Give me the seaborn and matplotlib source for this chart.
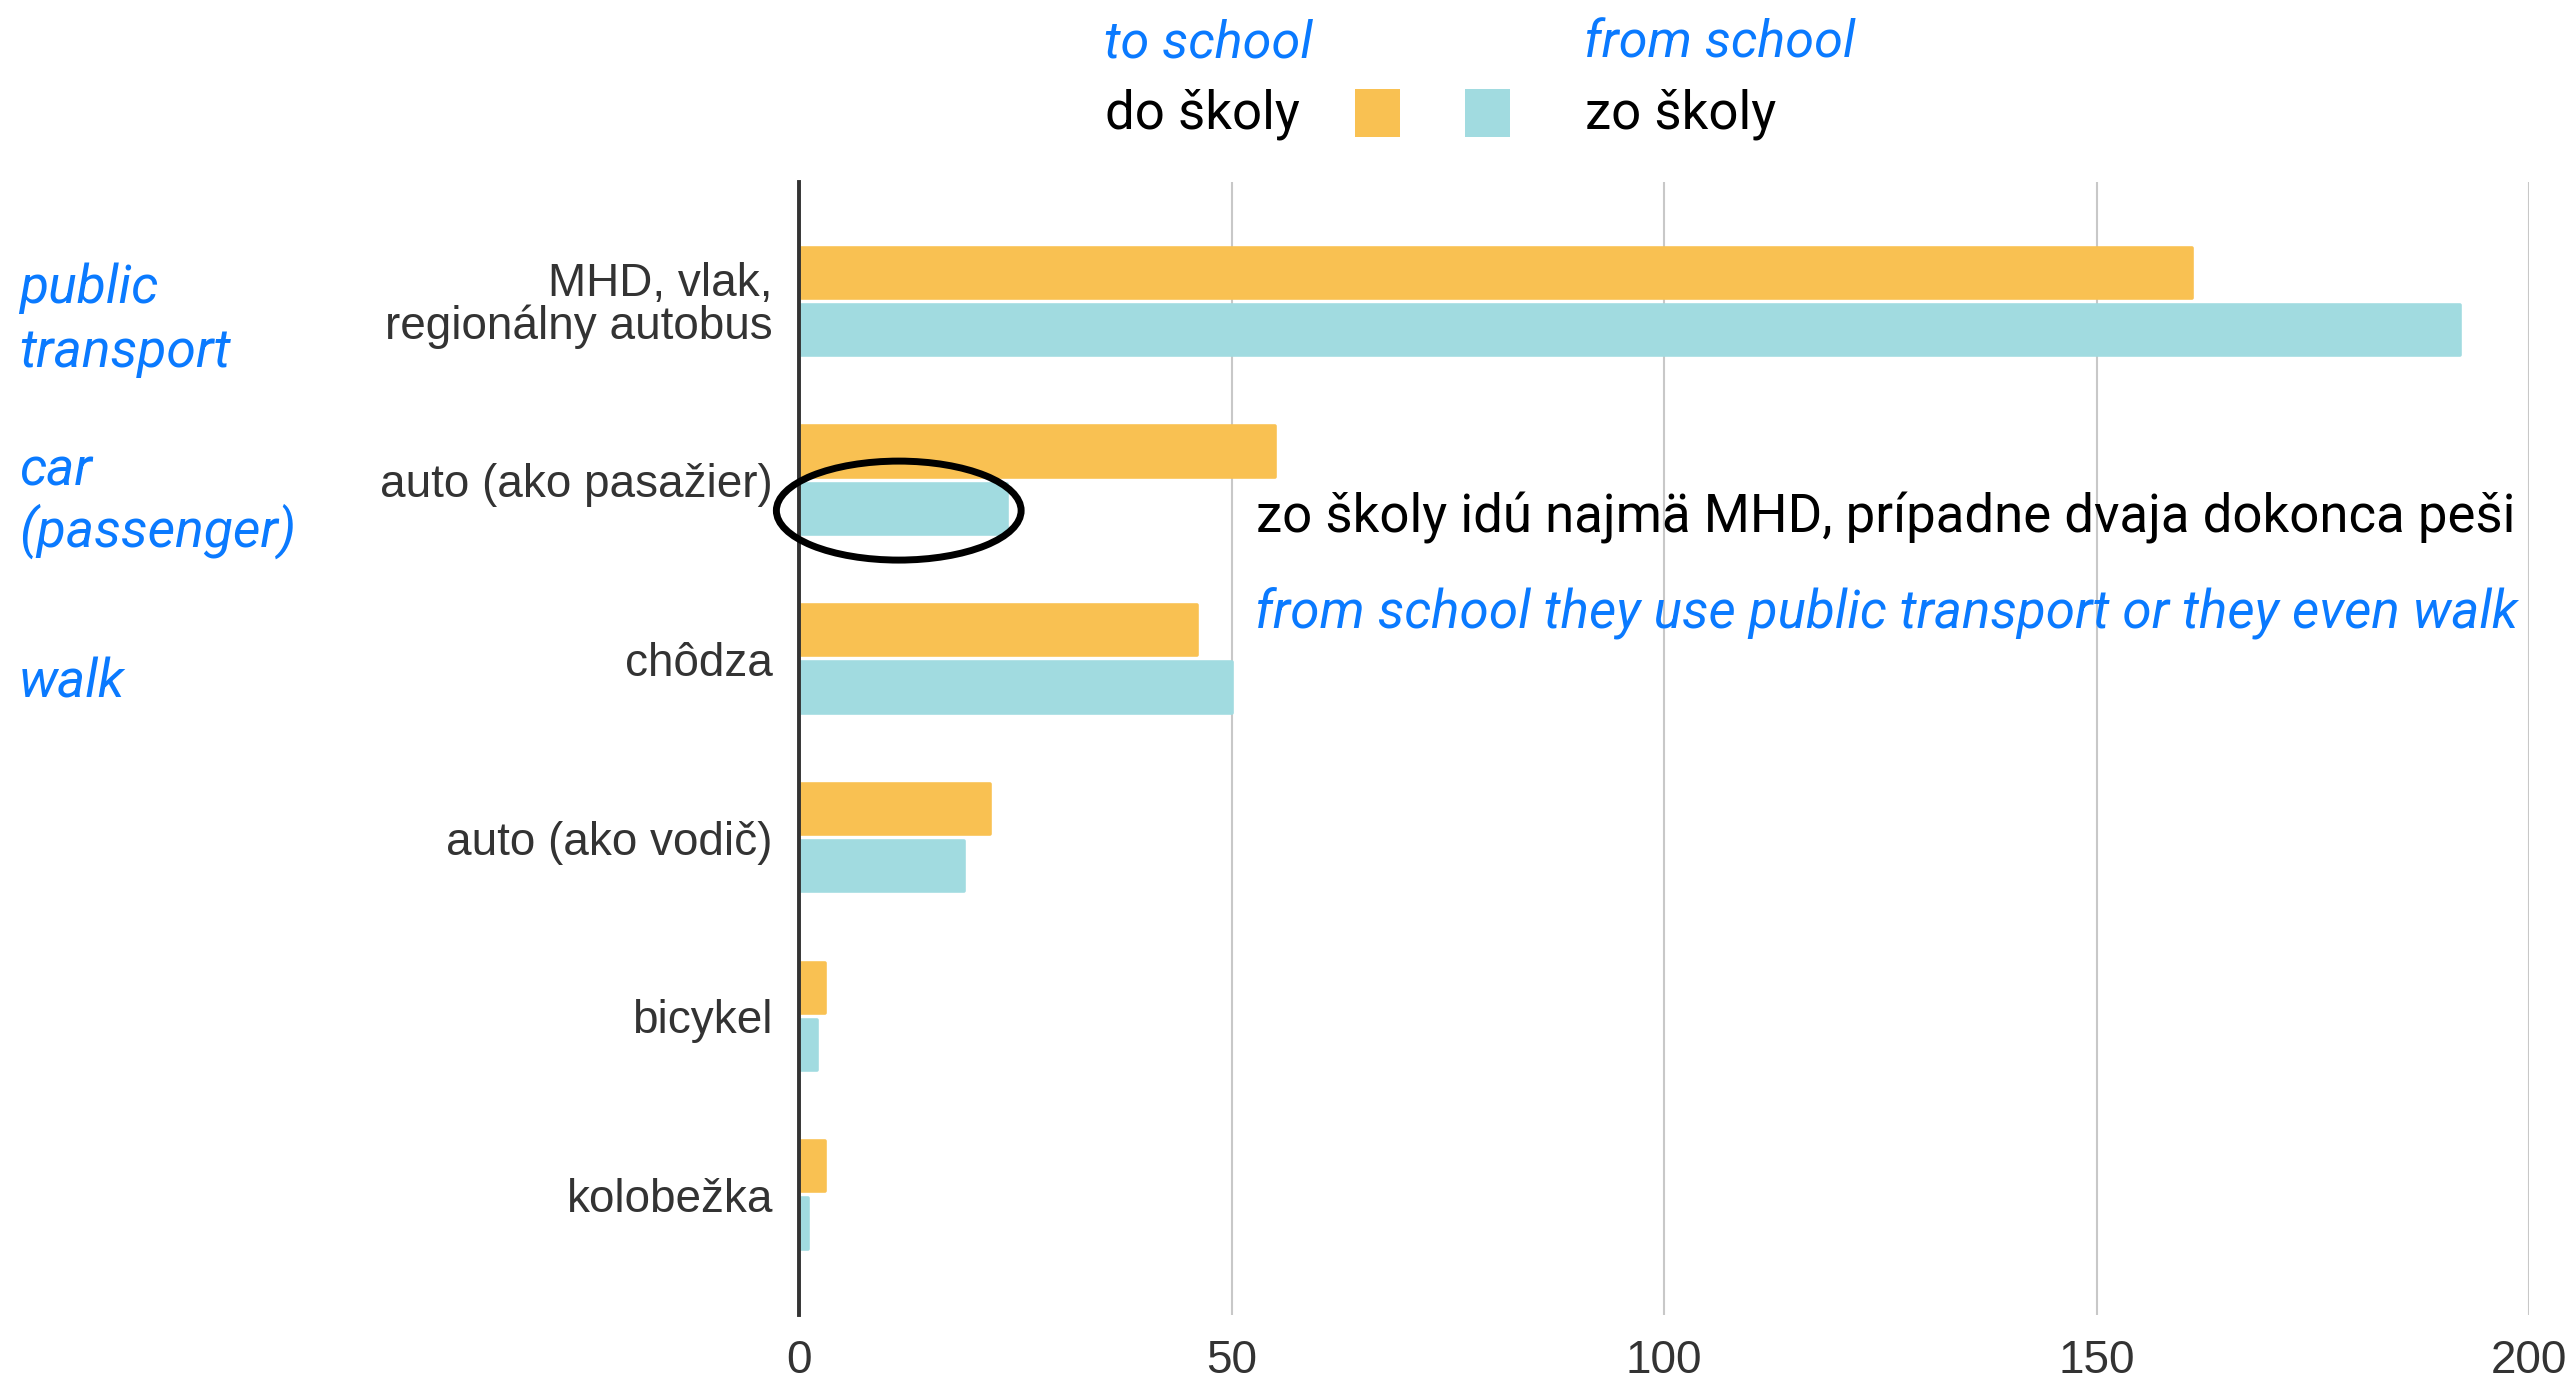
import matplotlib
matplotlib.use("Agg")
import matplotlib.pyplot as plt
from matplotlib.patches import Ellipse, Rectangle
from matplotlib.transforms import IdentityTransform
import seaborn as sns
import pandas as pd

# ---- data ----
categories = ["MHD, vlak,\nregionálny autobus", "auto (ako pasažier)", "chôdza",
              "auto (ako vodič)", "bicykel", "kolobežka"]
to_school = [161, 55, 46, 22, 3, 3]
from_school = [192, 24, 50, 19, 2, 1]
series_names = ["do školy", "zo školy"]
x_ticks = [0, 50, 100, 150, 200]

ORANGE = "#F9C152"
TEAL = "#A1DBE0"
BLUE = "#0A7AFF"

df = pd.DataFrame({
    "category": categories * 2,
    "count": to_school + from_school,
    "direction": [series_names[0]] * len(categories) + [series_names[1]] * len(categories),
})

sns.set_theme(style="white")
plt.rcParams["font.family"] = ["Liberation Sans", "DejaVu Sans"]

W, H = 2575, 1387
fig = plt.figure(figsize=(W / 100, H / 100), dpi=100)
ax = fig.add_axes([799.3 / W, 1 - 1315 / H, (2529 - 799.3) / W, (1315 - 182) / H])

sns.barplot(data=df, y="category", x="count", hue="direction", orient="h",
            palette=[ORANGE, TEAL], width=0.64, gap=0.12, ax=ax, legend=False,
            saturation=1)
for p in ax.patches:
    p.set_edgecolor(p.get_facecolor())
    p.set_linewidth(2.6)
    p.set_joinstyle("round")

ax.set_xlim(0, 200)
ax.set_ylim(5.672, -0.669)
ax.set_xticks(x_ticks)
ax.set_xticklabels([str(t) for t in x_ticks])
ax.set_xlabel("")
ax.set_ylabel("")
ax.set_axisbelow(True)
ax.grid(axis="x", color="#c8c8c8", linewidth=1.5)
ax.grid(axis="y", visible=False)
for s in ["top", "right", "bottom"]:
    ax.spines[s].set_visible(False)
ax.spines["left"].set_color("#333333")
ax.spines["left"].set_linewidth(2.8)
ax.spines["left"].set_zorder(5)
ax.tick_params(axis="both", length=0, labelsize=33, colors="#333333")
ax.tick_params(axis="x", pad=17)
ax.tick_params(axis="y", pad=19)
for lbl in ax.get_yticklabels():
    lbl.set_linespacing(0.95)

# ---- annotations (display pixel coords, origin top-left converted) ----
T = IdentityTransform()


def txt(x, y_top, s, color="black", style="normal", size=36, family=("Roboto", "DejaVu Sans")):
    fig.text(x, H - y_top, s, transform=T, color=color, fontstyle=style,
             fontsize=size, family=list(family), ha="left", va="baseline")


# legend
txt(1104, 57, "to school", color=BLUE, style="italic", size=37.5)
txt(1105, 128, series_names[0], size=38)
txt(1584, 57, "from school", color=BLUE, style="italic", size=37.5)
txt(1585, 128, series_names[1], size=38)
fig.add_artist(Rectangle((1355, H - 137), 45, 48, transform=T, facecolor=ORANGE, edgecolor="none"))
fig.add_artist(Rectangle((1465, H - 137), 45, 48, transform=T, facecolor=TEAL, edgecolor="none"))

# left side English labels
for s, yb in [("public", 303), ("transport", 367), ("car", 485), ("(passenger)", 547), ("walk", 698)]:
    txt(19, yb, s, color=BLUE, style="italic", size=38.5)

# comment
txt(1256, 532, "zo školy idú najmä MHD, prípadne dvaja dokonca peši", size=38)
txt(1255, 628, "from school they use public transport or they even walk", color=BLUE, style="italic", size=38.2)

# highlight ellipse around the passenger "from school" bar
ax.add_patch(Ellipse((11.5, 1.17), 28.3, 0.554, fill=False, edgecolor="black",
                     linewidth=5, clip_on=False, zorder=6))

fig.savefig("out.png", dpi=100)
